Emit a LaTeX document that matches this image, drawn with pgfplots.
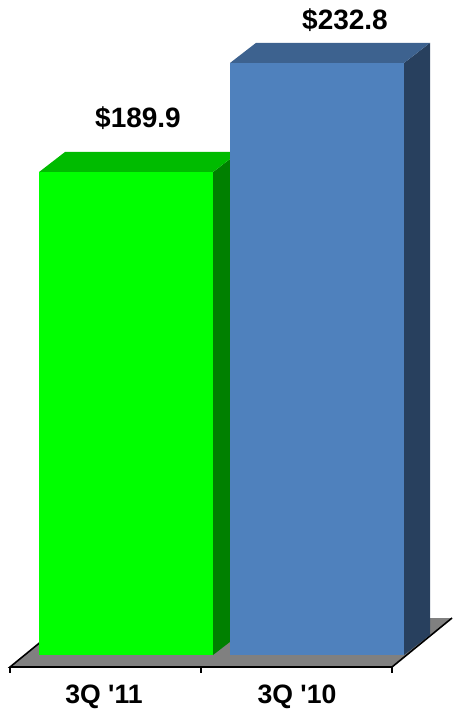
\documentclass[border=0pt]{standalone}
\usepackage{fontspec}
\setmainfont{Liberation Sans}
\usepackage{pgfplots}
\pgfplotsset{compat=1.18}

\definecolor{gfront}{RGB}{0,255,0}
\definecolor{gtop}{RGB}{0,187,0}
\definecolor{gside}{RGB}{0,128,0}
\definecolor{bfront}{RGB}{79,129,189}
\definecolor{btop}{RGB}{61,98,143}
\definecolor{bside}{RGB}{40,64,94}
\definecolor{floorgray}{RGB}{128,128,128}

\begin{document}
\begin{tikzpicture}
\begin{axis}[
    width=226pt, height=354.5pt,
    scale only axis,
    hide axis,
    xmin=0, xmax=452,
    ymin=-21.23, ymax=257.57,
    clip=false,
]
% frame the page to the axis box
\addplot[draw=none] coordinates {(0,-21.23) (452,257.57)};

% floor
\addplot[fill=floorgray, draw=none] coordinates {(10,-4.72) (392,-4.72) (452,14.55) (70,14.55)} -- cycle;
\addplot[black, line width=0.8pt] coordinates {(70,14.55) (10,-4.72) (392,-4.72) (452,14.55)};
\addplot[black, line width=0.8pt] coordinates {(10,-4.72) (10,-7.1)};
\addplot[black, line width=0.8pt] coordinates {(201,-4.72) (201,-7.1)};
\addplot[black, line width=0.8pt] coordinates {(392,-4.72) (392,-7.1)};

% 3Q '11 bar: 189.9
\addplot[fill=gside, draw=none] coordinates {(213,0) (239,7.9) (239,197.8) (213,189.9)} -- cycle;
\addplot[fill=gtop, draw=none] coordinates {(39,189.9) (213,189.9) (239,197.8) (65,197.8)} -- cycle;
\addplot[fill=gfront, draw=none] coordinates {(39,0) (213,0) (213,189.9) (39,189.9)} -- cycle;

% 3Q '10 bar: 232.8
\addplot[fill=bside, draw=none] coordinates {(404,0) (430,7.9) (430,240.7) (404,232.8)} -- cycle;
\addplot[fill=btop, draw=none] coordinates {(230,232.8) (404,232.8) (430,240.7) (256,240.7)} -- cycle;
\addplot[fill=bfront, draw=none] coordinates {(230,0) (404,0) (404,232.8) (230,232.8)} -- cycle;

% value labels
\addplot[draw=none, nodes near coords, point meta=explicit symbolic,
    every node near coord/.append style={anchor=center, overlay, inner sep=0pt, font=\fontsize{14}{16}\selectfont\bfseries}]
    coordinates {(138,211.2) [\$189.9] (345,249.7) [\$232.8]};

% category labels
\addplot[draw=none, nodes near coords, point meta=explicit symbolic,
    every node near coord/.append style={anchor=center, overlay, inner sep=0pt, font=\fontsize{13.3}{15}\selectfont\bfseries}]
    coordinates {(104,-16.6) [3Q \textquotesingle11] (297,-16.6) [3Q \textquotesingle10]};
\end{axis}
\end{tikzpicture}
\end{document}
